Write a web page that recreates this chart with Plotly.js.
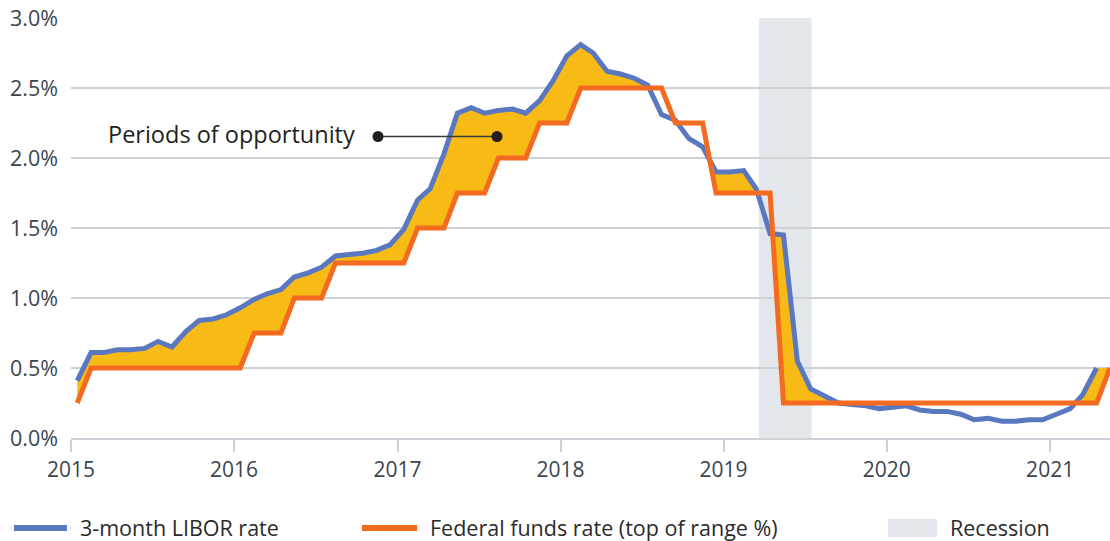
<!DOCTYPE html>
<html>
<head>
<meta charset="utf-8">
<script src="https://cdn.plot.ly/plotly-3.0.1.min.js"></script>
<style>
html, body { margin: 0; padding: 0; background: #ffffff; }
#chart { width: 1110px; height: 541px; }
</style>
</head>
<body>
<div id="chart"></div>
<script>
// ---------------- DATA ----------------
const months = [
  '2015-01','2015-02','2015-03','2015-04','2015-05','2015-06','2015-07','2015-08','2015-09','2015-10','2015-11','2015-12',
  '2016-01','2016-02','2016-03','2016-04','2016-05','2016-06','2016-07','2016-08','2016-09','2016-10','2016-11','2016-12',
  '2017-01','2017-02','2017-03','2017-04','2017-05','2017-06','2017-07','2017-08','2017-09','2017-10','2017-11','2017-12',
  '2018-01','2018-02','2018-03','2018-04','2018-05','2018-06','2018-07','2018-08','2018-09','2018-10','2018-11','2018-12',
  '2019-01','2019-02','2019-03','2019-04','2019-05','2019-06','2019-07','2019-08','2019-09','2019-10','2019-11','2019-12',
  '2020-01','2020-02','2020-03','2020-04','2020-05','2020-06','2020-07','2020-08','2020-09','2020-10','2020-11','2020-12',
  '2021-01','2021-02','2021-03','2021-04','2021-05'
];

const liborRate = [
  0.41, 0.61, 0.61, 0.63, 0.63, 0.64, 0.69, 0.65, 0.76, 0.84, 0.85, 0.88,
  0.93, 0.99, 1.03, 1.06, 1.15, 1.18, 1.22, 1.30, 1.31, 1.32, 1.34, 1.38,
  1.49, 1.70, 1.78, 2.03, 2.32, 2.36, 2.32, 2.34, 2.35, 2.32, 2.41, 2.55,
  2.73, 2.81, 2.75, 2.62, 2.60, 2.57, 2.52, 2.31, 2.27, 2.14, 2.08, 1.90,
  1.90, 1.91, 1.78, 1.46, 1.45, 0.55, 0.35, 0.30, 0.25, 0.24, 0.23, 0.21,
  0.22, 0.23, 0.20, 0.19, 0.19, 0.17, 0.13, 0.14, 0.12, 0.12, 0.13, 0.13,
  0.17, 0.21, 0.31, 0.50
];

const fedFundsRate = [
  0.25, 0.50, 0.50, 0.50, 0.50, 0.50, 0.50, 0.50, 0.50, 0.50, 0.50, 0.50,
  0.50, 0.75, 0.75, 0.75, 1.00, 1.00, 1.00, 1.25, 1.25, 1.25, 1.25, 1.25,
  1.25, 1.50, 1.50, 1.50, 1.75, 1.75, 1.75, 2.00, 2.00, 2.00, 2.25, 2.25,
  2.25, 2.50, 2.50, 2.50, 2.50, 2.50, 2.50, 2.50, 2.25, 2.25, 2.25, 1.75,
  1.75, 1.75, 1.75, 1.75, 0.25, 0.25, 0.25, 0.25, 0.25, 0.25, 0.25, 0.25,
  0.25, 0.25, 0.25, 0.25, 0.25, 0.25, 0.25, 0.25, 0.25, 0.25, 0.25, 0.25,
  0.25, 0.25, 0.25, 0.25, 0.50
];

const recessionSpan = ['2019-03-21', '2019-07-17'];

const xTickVals = ['2015-01-01','2016-01-01','2017-01-01','2018-01-01','2019-01-01','2020-01-01','2021-01-01'];
const xTickText = ['2015','2016','2017','2018','2019','2020','2021'];
const yTickVals = [0, 0.5, 1.0, 1.5, 2.0, 2.5, 3.0];
const yTickText = ['0.0%','0.5%','1.0%','1.5%','2.0%','2.5%','3.0%'];

const seriesNames = ['3-month LIBOR rate', 'Federal funds rate (top of range %)', 'Recession'];
const calloutText = 'Periods of opportunity';

// ---------------- STYLE ----------------
const BLUE = '#5a78bf';
const ORANGE = '#f36b21';
const GOLD = '#f8bb16';
const GRID = '#cdd2d8';
const REC = '#e3e6ea';
const FONT = 'Open Sans, sans-serif';
const TICKCOL = '#3a4550';
const TEXTCOL = '#2b2b2b';

// ---------------- BUILD ----------------
const toMs = m => Date.UTC(+m.slice(0, 4), +m.slice(5, 7) - 1, 15);
const xMs = months.map(toMs);
const xLibor = xMs.slice(0, liborRate.length);

// Shaded area where LIBOR is above the fed funds rate (upper = max of the two lines)
const upX = [], upY = [];
for (let k = 0; k < fedFundsRate.length; k++) {
  const hasL = k < liborRate.length;
  upX.push(xMs[k]);
  upY.push(hasL ? Math.max(liborRate[k], fedFundsRate[k]) : fedFundsRate[k]);
  if (k + 1 < liborRate.length) {
    const d0 = liborRate[k] - fedFundsRate[k];
    const d1 = liborRate[k + 1] - fedFundsRate[k + 1];
    if (d0 * d1 < 0) {
      const t = d0 / (d0 - d1);
      upX.push(xMs[k] + t * (xMs[k + 1] - xMs[k]));
      upY.push(fedFundsRate[k] + t * (fedFundsRate[k + 1] - fedFundsRate[k]));
    }
  }
}
const polyX = upX.concat(xMs.slice().reverse());
const polyY = upY.concat(fedFundsRate.slice().reverse());

const traces = [
  { type: 'scatter', x: polyX, y: polyY, mode: 'none', fill: 'toself', fillcolor: GOLD,
    hoverinfo: 'skip', showlegend: false },
  { type: 'scatter', x: xLibor, y: liborRate, mode: 'lines', name: seriesNames[0],
    line: { color: BLUE, width: 5 }, showlegend: false },
  { type: 'scatter', x: xMs, y: fedFundsRate, mode: 'lines', name: seriesNames[1],
    line: { color: ORANGE, width: 5 }, showlegend: false }
];

// pixel helpers for layout-only decorations (legend + callout), in paper units
const L = 71, T = 18, W = 1110 - 71, H = 541 - 18 - 103;
const px = v => (v - L) / W;
const py = v => (T + H - v) / H;

const shapes = [
  { type: 'rect', layer: 'below', xref: 'x', yref: 'paper', x0: recessionSpan[0], x1: recessionSpan[1], y0: 0, y1: 1,
    fillcolor: REC, line: { width: 0 } },
  // callout connector + dots
  { type: 'line', xref: 'paper', yref: 'paper', x0: px(378), x1: px(497), y0: py(136.5), y1: py(136.5),
    line: { color: '#3a3a3a', width: 1.6 } },
  { type: 'circle', xref: 'paper', yref: 'paper', xsizemode: 'pixel', ysizemode: 'pixel',
    xanchor: px(378), yanchor: py(136.5), x0: -5.5, x1: 5.5, y0: -5.5, y1: 5.5,
    fillcolor: '#231f20', line: { width: 0 } },
  { type: 'circle', xref: 'paper', yref: 'paper', xsizemode: 'pixel', ysizemode: 'pixel',
    xanchor: px(497), yanchor: py(136.5), x0: -5.5, x1: 5.5, y0: -5.5, y1: 5.5,
    fillcolor: '#231f20', line: { width: 0 } },
  // legend keys
  { type: 'line', xref: 'paper', yref: 'paper', x0: px(14), x1: px(67), y0: py(528), y1: py(528),
    line: { color: BLUE, width: 6 } },
  { type: 'line', xref: 'paper', yref: 'paper', x0: px(362), x1: px(417), y0: py(528), y1: py(528),
    line: { color: ORANGE, width: 6 } },
  { type: 'rect', xref: 'paper', yref: 'paper', x0: px(888), x1: px(937), y0: py(537), y1: py(519),
    fillcolor: REC, line: { width: 0 } }
];

const annotations = [
  { xref: 'paper', yref: 'paper', x: px(356), y: py(134), xanchor: 'right', yanchor: 'middle',
    text: calloutText, showarrow: false, borderpad: 0, font: { family: FONT, size: 23.5, color: '#231f20' } },
  { xref: 'paper', yref: 'paper', x: px(79), y: py(527), xanchor: 'left', yanchor: 'middle',
    text: seriesNames[0], showarrow: false, borderpad: 0, font: { family: FONT, size: 21.5, color: TEXTCOL } },
  { xref: 'paper', yref: 'paper', x: px(429), y: py(527), xanchor: 'left', yanchor: 'middle',
    text: seriesNames[1], showarrow: false, borderpad: 0, font: { family: FONT, size: 21.5, color: TEXTCOL } },
  { xref: 'paper', yref: 'paper', x: px(949), y: py(527), xanchor: 'left', yanchor: 'middle',
    text: seriesNames[2], showarrow: false, borderpad: 0, font: { family: FONT, size: 21.5, color: TEXTCOL } }
];

const layout = {
  width: 1110, height: 541,
  margin: { l: L, r: 0, t: T, b: 103, pad: 0 },
  paper_bgcolor: '#ffffff',
  plot_bgcolor: 'rgba(0,0,0,0)',
  showlegend: false,
  font: { family: FONT, size: 20, color: TICKCOL },
  xaxis: {
    type: 'date',
    range: ['2015-01-01', '2021-05-15'],
    tickmode: 'array', tickvals: xTickVals, ticktext: xTickText,
    ticks: 'outside', ticklen: 12, tickwidth: 2, tickcolor: GRID,
    showgrid: false, zeroline: false,
    showline: true, linecolor: GRID, linewidth: 2,
    tickfont: { family: FONT, size: 21, color: TICKCOL },
    fixedrange: true
  },
  yaxis: {
    range: [0, 3],
    tickmode: 'array', tickvals: yTickVals, ticktext: yTickText,
    showgrid: true, gridcolor: GRID, gridwidth: 2,
    zeroline: false, showline: false, ticks: '',
    ticklabelstandoff: 12,
    tickfont: { family: FONT, size: 21.5, color: TICKCOL },
    fixedrange: true
  },
  shapes: shapes,
  annotations: annotations
};

Plotly.newPlot('chart', traces, layout, { staticPlot: true, displayModeBar: false });
</script>
</body>
</html>
